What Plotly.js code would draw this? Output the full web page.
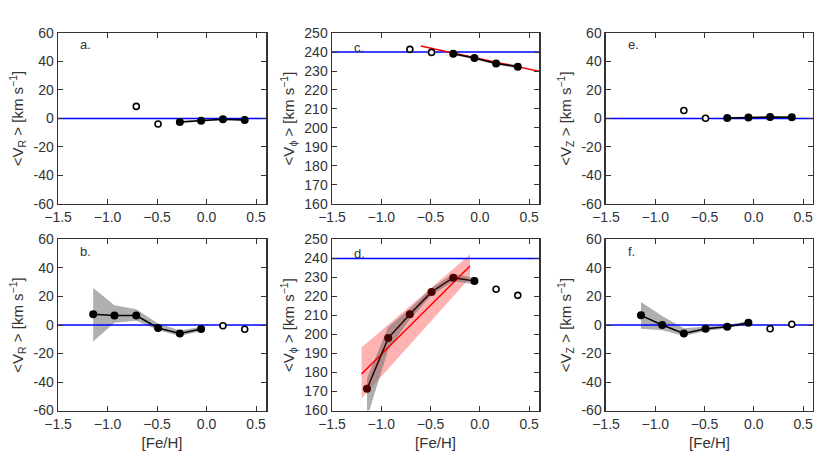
<!DOCTYPE html>
<html>
<head>
<meta charset="utf-8">
<script src="https://cdn.plot.ly/plotly-3.0.1.min.js"></script>
<style>
  html, body { margin: 0; padding: 0; background: white; }
  #chart { width: 830px; height: 461px; }
</style>
</head>
<body>
<div id="chart"></div>
<script>
// [Fe/H] bin centres
const feh = [-1.145, -0.93, -0.71, -0.49, -0.27, -0.055, 0.165, 0.385];

// top row sample (a, c, e)
const topFilled = [false, false, false, false, true, true, true, true];
const vrTop   = [null, null, 8.5, -3.9, -2.5, -1.5, -0.6, -1.1];
const vphiTop = [null, null, 241.4, 239.8, 239.1, 236.8, 234.0, 232.3];
const vzTop   = [null, null, 5.6, 0.2, 0.3, 0.7, 1.0, 0.8];
const vrTopLo   = [null, null, null, null, -3.2, -2.2, -1.3, -1.8];
const vrTopHi   = [null, null, null, null, -1.8, -0.8, 0.1, -0.4];
const vphiTopLo = [null, null, null, null, 238.4, 236.2, 233.3, 231.4];
const vphiTopHi = [null, null, null, null, 239.8, 237.4, 234.8, 233.2];
const vzTopLo   = [null, null, null, null, -0.3, 0.1, 0.4, 0.2];
const vzTopHi   = [null, null, null, null, 0.9, 1.3, 1.6, 1.4];

// bottom row sample (b, d, f)
const botFilled = [true, true, true, true, true, true, false, false];
const vrBot   = [7.5, 6.6, 6.6, -2.1, -5.9, -2.8, -0.5, -3.0];
const vphiBot = [171.4, 198.1, 210.7, 222.4, 229.9, 228.1, 223.8, 220.6];
const vzBot   = [6.8, 0.0, -5.9, -2.6, -1.2, 1.6, -2.6, 0.5];
const vrBotLo   = [-11.5, 1.5, 3, -3.7, -7.7, -4.2, null, null];
const vrBotHi   = [26, 13.8, 11, 1, -3.7, -1.4, null, null];
const vphiBotLo = [156, 192, 208, 220.5, 228, 226.5, null, null];
const vphiBotHi = [177, 204, 213.5, 224.5, 232, 229.8, null, null];
const vzBotLo   = [-2.6, -3.7, -7.7, -4.2, -2.3, 0.5, null, null];
const vzBotHi   = [16.2, 6.3, -2.3, -1, 0, 2.8, null, null];

// linear fits of V_phi
const fitTopX = [-0.6, 0.6];
const fitTopY = [243.2, 229.8];
const fitBotX = [-1.2, -0.1];
const fitBotY = [179.2, 236.0];
const fitBotLo = [166.3, 229.9];
const fitBotHi = [193.2, 242.1];

// reference levels
const lsrVr = 0, lsrVphi = 240, lsrVz = 0;
const xRange = [-1.5, 0.6];

const xTicks = [-1.5, -1.0, -0.5, 0.0, 0.5];
const xTickText = ['\u22121.5', '\u22121.0', '\u22120.5', '0.0', '0.5'];
const vTicks = [-60, -40, -20, 0, 20, 40, 60];
const vTickText = ['-60', '-40', '-20', '0', '20', '40', '60'];
const phiTicks = [160, 170, 180, 190, 200, 210, 220, 230, 240, 250];

const panelLabels = ['a.', 'c.', 'e.', 'b.', 'd.', 'f.'];

const FONT = 'Liberation Sans, Arial, sans-serif';
const INK = '#333333';

function pick(arr, mask, want) {
    const xs = [], ys = [];
    arr.forEach((v, i) => {
        if (v !== null && mask[i] === want) { xs.push(feh[i]); ys.push(v); }
    });
    return { x: xs, y: ys };
}

function band(lo, hi, n, color) {
    const xs = [], up = [], dn = [];
    lo.forEach((v, i) => {
        if (v !== null) { xs.push(feh[i]); dn.push(v); up.push(hi[i]); }
    });
    return {
        x: xs.concat(xs.slice().reverse()),
        y: up.concat(dn.slice().reverse()),
        xaxis: 'x' + n, yaxis: 'y' + n,
        type: 'scatter', mode: 'lines', fill: 'toself',
        fillcolor: color, line: { width: 0 }, hoverinfo: 'skip'
    };
}

function refLine(level, n) {
    return {
        x: xRange, y: [level, level],
        xaxis: 'x' + n, yaxis: 'y' + n,
        type: 'scatter', mode: 'lines',
        line: { color: '#0000ff', width: 1.5 }, hoverinfo: 'skip'
    };
}

function points(vals, mask, n, lineColor, markerColor) {
    const f = pick(vals, mask, true);
    const o = pick(vals, mask, false);
    return [
        {
            x: f.x, y: f.y, xaxis: 'x' + n, yaxis: 'y' + n,
            type: 'scatter', mode: 'lines+markers',
            line: { color: lineColor, width: 1.5 },
            marker: { size: 8, color: markerColor }
        },
        {
            x: o.x, y: o.y, xaxis: 'x' + n, yaxis: 'y' + n,
            type: 'scatter', mode: 'markers',
            marker: { size: 6, color: 'white', line: { color: 'black', width: 1.6 } }
        }
    ];
}

const grey = 'rgba(110,110,110,0.55)';
const data = [];

// a.
data.push(band(vrTopLo, vrTopHi, '', grey), refLine(lsrVr, ''), ...points(vrTop, topFilled, '', 'black', 'black'));
// c.
data.push(band(vphiTopLo, vphiTopHi, '2', grey), refLine(lsrVphi, '2'));
data.push({ x: fitTopX, y: fitTopY, xaxis: 'x2', yaxis: 'y2', type: 'scatter', mode: 'lines',
            line: { color: '#ff0000', width: 1.5 } });
data.push(...points(vphiTop, topFilled, '2', 'black', 'black'));
// e.
data.push(band(vzTopLo, vzTopHi, '3', grey), refLine(lsrVz, '3'), ...points(vzTop, topFilled, '3', 'black', 'black'));
// b.
data.push(band(vrBotLo, vrBotHi, '4', grey), refLine(lsrVr, '4'), ...points(vrBot, botFilled, '4', 'black', 'black'));
// d.
data.push({
    x: fitBotX.concat(fitBotX.slice().reverse()),
    y: fitBotHi.concat(fitBotLo.slice().reverse()),
    xaxis: 'x5', yaxis: 'y5', type: 'scatter', mode: 'lines', fill: 'toself',
    fillcolor: 'rgba(255,0,0,0.3)', line: { width: 0 }, hoverinfo: 'skip'
});
data.push(band(vphiBotLo, vphiBotHi, '5', grey), refLine(lsrVphi, '5'));
data.push({ x: fitBotX, y: fitBotY, xaxis: 'x5', yaxis: 'y5', type: 'scatter', mode: 'lines',
            line: { color: '#ff0000', width: 1.5 } });
data.push(...points(vphiBot, botFilled, '5', '#3a0000',
    ['#4a0000', '#4a0000', '#4a0000', '#4a0000', '#4a0000', 'black']));
// f.
data.push(band(vzBotLo, vzBotHi, '6', grey), refLine(lsrVz, '6'), ...points(vzBot, botFilled, '6', 'black', 'black'));

const colDomains = [[0.0699, 0.3205], [0.4, 0.6494], [0.7301, 0.9795]];
const rowDomains = [[0.5575, 0.9284], [0.1095, 0.4805]];

const yTitles = [
    '&lt;V<sub>R</sub> &gt; [km s<sup>\u22121</sup>]',
    '&lt;V<sub>\u03d5</sub> &gt; [km s<sup>\u22121</sup>]',
    '&lt;V<sub>Z</sub> &gt; [km s<sup>\u22121</sup>]'
];

const layout = {
    width: 830, height: 461,
    margin: { l: 0, r: 0, t: 0, b: 0 },
    paper_bgcolor: 'white', plot_bgcolor: 'white',
    showlegend: false,
    font: { family: FONT, size: 14, color: INK },
    annotations: []
};

for (let k = 0; k < 6; k++) {
    const n = k === 0 ? '' : String(k + 1);
    const col = k % 3, row = Math.floor(k / 3);
    const isPhi = col === 1;
    const xa = {
        domain: colDomains[col], anchor: 'y' + n, range: xRange,
        tickvals: xTicks, ticktext: xTickText,
        ticks: 'inside', ticklen: 5, tickwidth: 1, tickcolor: INK,
        showline: true, linecolor: INK, linewidth: 1.5, mirror: 'ticks',
        showgrid: false, zeroline: false,
        tickfont: { family: FONT, size: 14, color: INK }
    };
    if (row === 1) {
        xa.title = { text: '[Fe/H]', font: { family: FONT, size: 15, color: INK }, standoff: 6 };
    }
    layout['xaxis' + n] = xa;
    layout['yaxis' + n] = {
        domain: rowDomains[row], anchor: 'x' + n,
        range: isPhi ? [160, 250] : [-60, 60],
        tickvals: isPhi ? phiTicks : vTicks,
        ticktext: isPhi ? phiTicks.map(String) : vTickText,
        ticks: 'inside', ticklen: 5, tickwidth: 1, tickcolor: INK,
        showline: true, linecolor: INK, linewidth: 1.5, mirror: 'ticks',
        showgrid: false, zeroline: false,
        tickfont: { family: FONT, size: 14, color: INK },
        title: { text: yTitles[col], font: { family: FONT, size: 15, color: INK }, standoff: 6 }
    };
    layout.annotations.push({
        text: panelLabels[k], xref: 'x' + n, yref: 'y' + n,
        x: -1.3, y: isPhi ? 242.6 : 51.6, xanchor: 'left', yanchor: 'middle',
        showarrow: false, font: { family: FONT, size: 13, color: INK }
    });
}

Plotly.newPlot('chart', data, layout, { staticPlot: true });
</script>
</body>
</html>
